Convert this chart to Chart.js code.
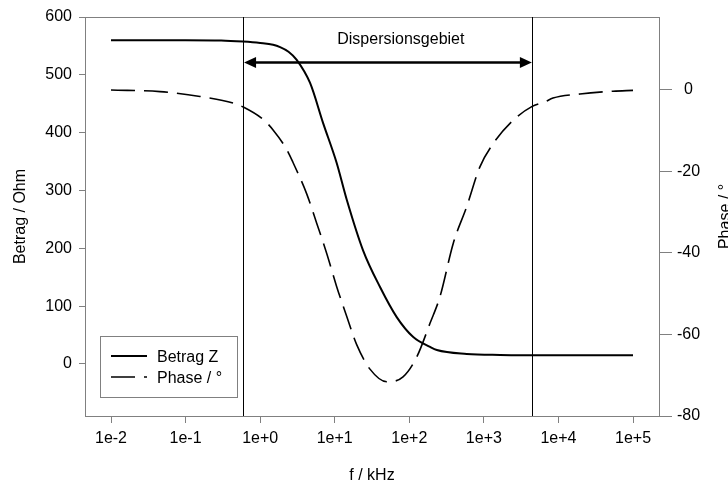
<!DOCTYPE html>
<html><head><meta charset="utf-8">
<script src="https://cdn.jsdelivr.net/npm/chart.js@4.4.0/dist/chart.umd.min.js"></script>
<style>html,body{margin:0;padding:0;background:#fff;overflow:hidden}#wrap{width:728px;height:482px}</style>
</head><body><div id="wrap"><canvas id="c" width="728" height="482"></canvas></div>
<script>
// ---- data ----
const betragFreq   = [0.01, 0.03, 0.1, 0.3, 0.59, 1.0, 1.49, 1.85, 2.4, 3.09, 4.67, 6.97, 10.6, 14.5, 23.9, 40.5, 67.8, 112, 190, 234, 589, 1650, 10000, 100000];
const betragValues = [560, 560, 560, 559.5, 557.5, 555, 552, 548, 540, 526, 486, 417, 348, 284, 197, 133, 81, 47, 29.4, 24, 17.3, 15.6, 15, 15];
const phaseFreq    = [0.01, 0.0454, 0.156, 0.432, 0.594, 1.09, 1.49, 2.27, 2.76, 4.21, 5.73, 7.81, 10.6, 14.5, 19.7, 29.7, 49.8, 82.4, 126, 190, 258, 389, 589, 888, 1340, 2485, 4385, 6607, 8453, 19450, 53950, 100000];
const phaseValues  = [0, -0.4, -1.6, -3.2, -4.2, -7.2, -9.8, -14.6, -17.8, -25.5, -32.7, -40.1, -48.2, -55.6, -62.5, -68.5, -71.6, -70.4, -65.5, -57.2, -50.7, -37.6, -28.6, -18.8, -13.1, -7.4, -4.1, -2.9, -2.0, -1.0, -0.3, -0.1];
const seriesLabels = ['Betrag Z', 'Phase / °'];
const xTickValues  = [0.01, 0.1, 1, 10, 100, 1000, 10000, 100000];
const xTickLabels  = ['1e-2', '1e-1', '1e+0', '1e+1', '1e+2', '1e+3', '1e+4', '1e+5'];
const leftTicks    = [0, 100, 200, 300, 400, 500, 600];
const rightTicks   = [-80, -60, -40, -20, 0];
const dispersionBounds = [0.59, 4400];
const dispersionLabel  = 'Dispersionsgebiet';
const xTitle = 'f / kHz', leftTitle = 'Betrag / Ohm', rightTitle = 'Phase / °';

// ---- styling / layout ----
const FONT = '"Liberation Sans", Arial, Helvetica, sans-serif';
const GRAY = '#808080';
Chart.defaults.font.family = FONT;
Chart.defaults.font.size = 16;
Chart.defaults.color = '#000';

const decor = {
  id: 'decor',
  afterDatasetsDraw(chart) {
    const {ctx, chartArea: a, scales} = chart;
    const xs = scales.x, yl = scales.y;
    ctx.save();
    // frame
    ctx.strokeStyle = GRAY; ctx.lineWidth = 1; ctx.setLineDash([]);
    ctx.strokeRect(a.left + 0.5, a.top + 0.5, a.right - a.left, a.bottom - a.top);
    // dispersion boundaries
    ctx.strokeStyle = '#000';
    const bx = dispersionBounds.map(f => xs.getPixelForValue(f));
    bx.forEach(px => {
      const p = Math.round(px) + 0.5;
      ctx.beginPath(); ctx.moveTo(p, a.top); ctx.lineTo(p, a.bottom); ctx.stroke();
    });
    // double arrow
    const ay = Math.round(yl.getPixelForValue(522)) + 0.5;
    const x1 = bx[0] + 1, x2 = bx[1];
    ctx.lineWidth = 2.5;
    ctx.beginPath(); ctx.moveTo(x1 + 8, ay); ctx.lineTo(x2 - 8, ay); ctx.stroke();
    ctx.fillStyle = '#000';
    ctx.beginPath(); ctx.moveTo(x1, ay); ctx.lineTo(x1 + 12, ay - 5.5); ctx.lineTo(x1 + 12, ay + 5.5); ctx.closePath(); ctx.fill();
    ctx.beginPath(); ctx.moveTo(x2, ay); ctx.lineTo(x2 - 12, ay - 5.5); ctx.lineTo(x2 - 12, ay + 5.5); ctx.closePath(); ctx.fill();
    // region label
    ctx.font = '16px ' + FONT; ctx.textAlign = 'center'; ctx.textBaseline = 'alphabetic';
    ctx.fillText(dispersionLabel, xs.getPixelForValue(77), 43.5);
    // legend box
    const L = {x: 100, y: 336, w: 137, h: 61};
    ctx.strokeStyle = GRAY; ctx.lineWidth = 1;
    ctx.strokeRect(L.x + 0.5, L.y + 0.5, L.w, L.h);
    chart.data.datasets.forEach((ds, i) => {
      const ly = 356 + i * 21;
      ctx.strokeStyle = ds.borderColor; ctx.lineWidth = ds.borderWidth;
      ctx.setLineDash(ds.borderDash || []);
      ctx.beginPath(); ctx.moveTo(111, ly); ctx.lineTo(147, ly); ctx.stroke();
      ctx.setLineDash([]);
      ctx.textAlign = 'left'; ctx.fillStyle = '#000';
      ctx.fillText(ds.label, 157, ly + 6);
    });
    // axis titles
    ctx.textAlign = 'center';
    ctx.fillText(xTitle, (a.left + a.right) / 2, 479.5);
    const cy = (a.top + a.bottom) / 2;
    ctx.save(); ctx.translate(25, cy); ctx.rotate(-Math.PI / 2); ctx.fillText(leftTitle, 0, 0); ctx.restore();
    ctx.save(); ctx.translate(730, cy); ctx.rotate(-Math.PI / 2); ctx.fillText(rightTitle, 0, 0); ctx.restore();
    ctx.restore();
  }
};

const tickGrid = (len) => ({display: true, drawOnChartArea: false, drawTicks: true, tickLength: len, tickColor: GRAY, tickWidth: 1});

new Chart(document.getElementById('c'), {
  type: 'line',
  data: {
    datasets: [
      {label: seriesLabels[0], data: betragFreq.map((f, i) => ({x: f, y: betragValues[i]})), yAxisID: 'y',
       borderColor: '#000', borderWidth: 2, pointRadius: 0, cubicInterpolationMode: 'monotone', fill: false},
      {label: seriesLabels[1], data: phaseFreq.map((f, i) => ({x: f, y: phaseValues[i]})), yAxisID: 'y1',
       borderColor: '#000', borderWidth: 1.6, borderDash: [24, 9], pointRadius: 0, cubicInterpolationMode: 'monotone', fill: false}
    ]
  },
  options: {
    responsive: false, animation: false, devicePixelRatio: 1,
    layout: {padding: {top: 17, left: 0, right: 0, bottom: 0}},
    plugins: {legend: {display: false}, tooltip: {enabled: false}},
    scales: {
      x: {type: 'logarithmic', min: 0.00448, max: 223000,
          grid: tickGrid(7), border: {display: false},
          afterBuildTicks: s => { s.ticks = xTickValues.map(v => ({value: v})); },
          afterFit: s => { s.height = 66; },
          ticks: {autoSkip: false, maxRotation: 0, padding: 6, callback: (v, i) => xTickLabels[i]}},
      y: {position: 'left', min: -90, max: 600,
          grid: tickGrid(6), border: {display: false},
          afterBuildTicks: s => { s.ticks = leftTicks.map(v => ({value: v})); },
          afterFit: s => { s.width = 85; },
          ticks: {padding: 7, callback: v => String(v)}},
      y1: {position: 'right', min: -80, max: 17.9,
          grid: tickGrid(13), border: {display: false},
          afterBuildTicks: s => { s.ticks = rightTicks.map(v => ({value: v})); },
          afterFit: s => { s.width = 69; },
          ticks: {padding: 5, crossAlign: 'center', callback: v => String(v)}}
    }
  },
  plugins: [decor]
});
</script>
</body></html>
